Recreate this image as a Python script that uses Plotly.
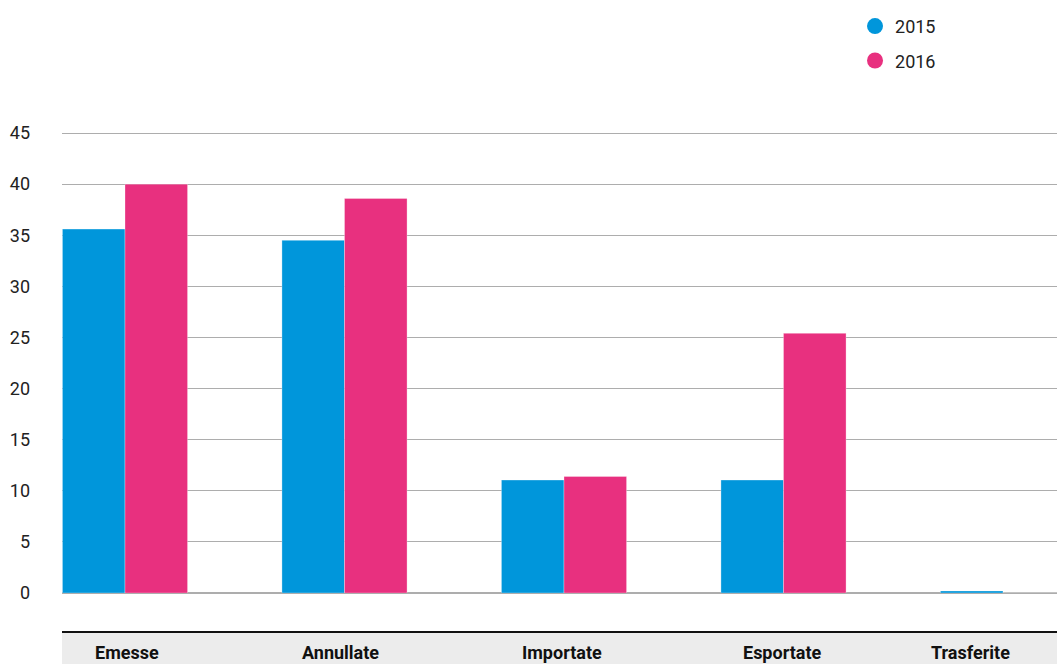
import plotly.graph_objects as go

categories = ["Emesse", "Annullate", "Importate", "Esportate", "Trasferite"]
series_names = ["2015", "2016"]
values_2015 = [35.6, 34.5, 11.05, 11.05, 0.2]
values_2016 = [40.0, 38.6, 11.4, 25.4, 0.0]
y_ticks = [0, 5, 10, 15, 20, 25, 30, 35, 40, 45]

colors = ["#0096DB", "#E8307F"]
font_family = "Roboto, 'DejaVu Sans', sans-serif"

x_idx = list(range(len(categories)))
bar_w = 0.285

fig = go.Figure()
for name, vals, col, off in [(series_names[0], values_2015, colors[0], -bar_w),
                             (series_names[1], values_2016, colors[1], 0.0)]:
    fig.add_trace(go.Bar(
        x=x_idx, y=vals, width=bar_w, offset=off,
        marker=dict(color=col, line=dict(color="rgba(255,255,255,0.6)", width=0.5)),
        showlegend=False, hoverinfo="y", name=name,
    ))
    fig.add_trace(go.Scatter(
        x=[None], y=[None], mode="markers", name=name, legendgroup=name,
        marker=dict(color=col, size=18, symbol="circle"),
    ))

# plot area: x 62..1057, y 113..593
fig.update_layout(
    width=1057, height=664,
    margin=dict(l=62, r=0, t=113, b=71),
    paper_bgcolor="white", plot_bgcolor="white",
    barmode="overlay",
    font=dict(family=font_family, size=17, color="#222"),
    showlegend=True,
    legend=dict(
        x=0.797, y=1.219, xanchor="left", yanchor="top",
        font=dict(size=18, color="#222"),
        itemsizing="trace", tracegroupgap=8,
        bgcolor="rgba(0,0,0,0)",
    ),
    xaxis=dict(
        range=[-0.287, 4.246], showgrid=False, zeroline=False,
        showticklabels=False, ticks="", fixedrange=True,
    ),
    yaxis=dict(
        range=[0, 46.96], tickvals=y_ticks, ticktext=[str(t) for t in y_ticks],
        showgrid=True, gridcolor="#adadad", gridwidth=1.4,
        zeroline=True, zerolinecolor="#adadad", zerolinewidth=1.6,
        showline=False, ticks="", ticklabelstandoff=31,
        tickfont=dict(size=18, color="#222"),
    ),
)

# category band below plot
band_top = (593 - 632) / 480
band_bot = (593 - 664) / 480
fig.add_shape(type="rect", xref="paper", yref="paper", x0=0, x1=1,
              y0=band_bot, y1=band_top, fillcolor="#ececec", line=dict(width=0), layer="below")
fig.add_shape(type="line", xref="paper", yref="paper", x0=0, x1=1,
              y0=band_top, y1=band_top, line=dict(color="#111", width=2))

label_shift = [2, -4, -2, -1, -33]
for i, cat in enumerate(categories):
    fig.add_annotation(
        x=i, y=(593 - 652) / 480, xref="x", yref="paper",
        text=f"<b>{cat}</b>", showarrow=False, xshift=label_shift[i],
        font=dict(size=18, color="#111", family=font_family),
        xanchor="center", yanchor="middle",
    )

fig.write_html(
    "out.html",
    config={"displayModeBar": False},
    post_script="document.body.style.margin='0';document.body.style.padding='0';document.body.style.overflow='hidden';",
)
